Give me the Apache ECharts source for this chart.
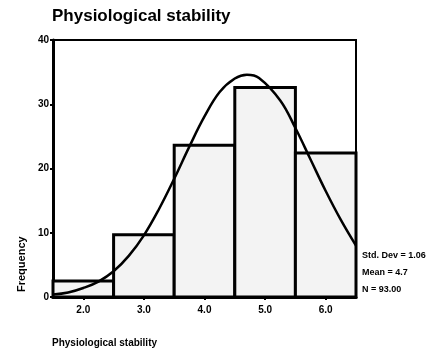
<!DOCTYPE html>
<html>
<head>
<meta charset="utf-8">
<script src="https://cdn.jsdelivr.net/npm/echarts@6/dist/echarts.min.js"></script>
<style>
  html, body { margin: 0; padding: 0; background: #fff; }
  #chart { width: 441px; height: 357px; }
</style>
</head>
<body>
<div id="chart"></div>
<script>
// histogram bins (midpoints) and frequencies
const binMids = [2.0, 3.0, 4.0, 5.0, 6.0];
const freq = [2.5, 9.7, 23.6, 32.6, 22.4];
// fitted normal curve
const curveX = [1.5, 1.75, 2.0, 2.25, 2.5, 2.75, 3.0, 3.25, 3.5, 3.75, 4.0, 4.25, 4.5, 4.7, 4.9, 5.25, 5.5, 5.75, 6.0, 6.25, 6.5];
const curveY = [0.4, 0.7, 1.4, 2.4, 4.0, 6.4, 9.6, 13.7, 18.4, 23.4, 28.1, 31.9, 34.0, 34.6, 34.1, 30.6, 26.3, 21.4, 16.5, 12.0, 8.0];
const xTicks = [2, 3, 4, 5, 6];
const stats = ['Std. Dev = 1.06', 'Mean = 4.7', 'N = 93.00'];

const font = 'Liberation Sans, Arial, sans-serif';
const chart = echarts.init(document.getElementById('chart'));

const option = {
  animation: false,
  backgroundColor: '#fff',
  grid: {
    left: 53, right: 85, top: 40, bottom: 60,
    show: true, borderColor: '#000', borderWidth: 2, backgroundColor: 'transparent'
  },
  xAxis: {
    type: 'value', min: 1.5, max: 6.5,
    splitLine: { show: false },
    axisLine: { lineStyle: { color: '#000', width: 3 } },
    axisTick: { customValues: xTicks, length: 3, lineStyle: { color: '#000', width: 2 } },
    axisLabel: {
      customValues: xTicks, color: '#000', fontFamily: font, fontWeight: 'bold', fontSize: 10,
      margin: 8, formatter: v => v.toFixed(1)
    }
  },
  yAxis: {
    type: 'value', min: 0, max: 40, interval: 10,
    splitLine: { show: false },
    axisLine: { show: true, lineStyle: { color: '#000', width: 3 } },
    axisTick: { show: true, length: 3, lineStyle: { color: '#000', width: 2 } },
    axisLabel: { color: '#000', fontFamily: font, fontWeight: 'bold', fontSize: 10, margin: 4 }
  },
  graphic: [
    { type: 'text', left: 52, top: 8, style: { text: 'Physiological stability', font: 'bold 17px ' + font, fill: '#000' } },
    { type: 'text', left: 52, top: 338, style: { text: 'Physiological stability', font: 'bold 10px ' + font, fill: '#000' } },
    { type: 'text', x: 16, y: 292, rotation: Math.PI / 2, style: { text: 'Frequency', font: 'bold 11px ' + font, fill: '#000' } },
    { type: 'text', left: 362, top: 251, style: { text: stats[0], font: 'bold 9px ' + font, fill: '#000' } },
    { type: 'text', left: 362, top: 268, style: { text: stats[1], font: 'bold 9px ' + font, fill: '#000' } },
    { type: 'text', left: 362, top: 285, style: { text: stats[2], font: 'bold 9px ' + font, fill: '#000' } }
  ],
  series: [
    {
      type: 'custom',
      data: binMids.map((m, i) => [m, freq[i]]),
      renderItem: (params, api) => {
        const m = api.value(0), h = api.value(1);
        const p0 = api.coord([m - 0.5, h]);
        const p1 = api.coord([m + 0.5, 0]);
        return {
          type: 'rect',
          shape: { x: p0[0], y: p0[1], width: p1[0] - p0[0], height: p1[1] - p0[1] },
          style: { fill: '#f3f3f3', stroke: '#000', lineWidth: 3 }
        };
      }
    },
    {
      type: 'line',
      smooth: 0.4,
      showSymbol: false,
      data: curveX.map((x, i) => [x, curveY[i]]),
      lineStyle: { color: '#000', width: 2.5 },
      z: 5
    }
  ]
};
chart.setOption(option);
</script>
</body>
</html>
